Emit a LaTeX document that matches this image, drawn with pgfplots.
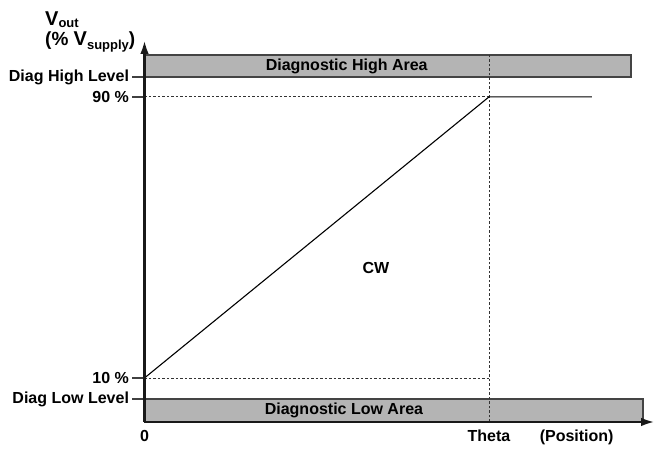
\documentclass[border=0pt]{standalone}
\usepackage{pgfplots}
\pgfplotsset{compat=1.18}
\usepackage{fontspec}
\setmainfont{Liberation Sans}
\usetikzlibrary{arrows.meta}
\definecolor{areagray}{HTML}{B4B4B4}
\definecolor{edgegray}{HTML}{444444}
\newcommand{\bigV}{{\fontsize{20}{20}\selectfont V}}
\newcommand{\sub}[2]{\raisebox{-#1}{\fontsize{13}{13}\selectfont #2}}

\begin{document}
\begin{tikzpicture}[font=\fontsize{16}{19}\selectfont\bfseries]
\useasboundingbox (-144.5pt,-27pt) rectangle (513.5pt,422pt);
\begin{axis}[
    scale only axis,
    width=510.5pt, height=382pt,
    xmin=0, xmax=1.482, ymin=-2.53, ymax=106.2,
    axis x line=bottom, axis y line=left,
    axis line style={line width=2.6pt, draw=black!90, -{Latex[length=14pt,width=8.5pt]}},
    axis on top,
    xtick={0,1,1.2546}, xticklabels={0,Theta,(Position)},
    x tick style={draw=none},
    x tick label style={yshift=7.5pt},
    ytick={4,10,90,95.66},
    yticklabels={Diag Low Level,10 \%,90 \%,Diag High Level},
    y tick style={line width=1.3pt, draw=black!75},
    tick align=outside, major tick length=12pt,
    clip=false,
    /pgf/number format/assume math mode=true,
]
% shaded diagnostic areas
\addplot[draw=edgegray, fill=areagray, line width=1.3pt]
    coordinates {(0,95.66) (1.412,95.66) (1.412,101.9) (0,101.9)} --cycle;
\addplot[draw=edgegray, fill=areagray, line width=1.3pt]
    coordinates {(0,-2.53) (1.447,-2.53) (1.447,4.0) (0,4.0)} --cycle;

% guide lines
\addplot[black!80, line width=0.9pt, dash pattern=on 2.5pt off 2pt]
    coordinates {(0,90) (1,90)};
\addplot[black!80, line width=0.9pt, dash pattern=on 2.5pt off 2pt]
    coordinates {(0,10) (1,10)};
\addplot[black!80, line width=0.9pt, dash pattern=on 2.5pt off 2pt]
    coordinates {(1,-2.53) (1,101.9)};

% output characteristic
\addplot[black, line width=1.1pt] coordinates {(0,10) (1,90) (1.299,90)};

\node at (axis cs:0.587,98.78) {Diagnostic High Area};
\node at (axis cs:0.579,0.735) {Diagnostic Low Area};
\node at (axis cs:0.672,41.3) {CW};
\node[anchor=north west, inner sep=0pt, align=left,
      font=\fontsize{19}{20}\selectfont\bfseries,
      xshift=-99.5pt, yshift=28pt] at (axis cs:0,106.2)
    {\bigV\sub{2pt}{out}\\(\% \bigV\sub{3.5pt}{supply})};
\end{axis}
\end{tikzpicture}
\end{document}
